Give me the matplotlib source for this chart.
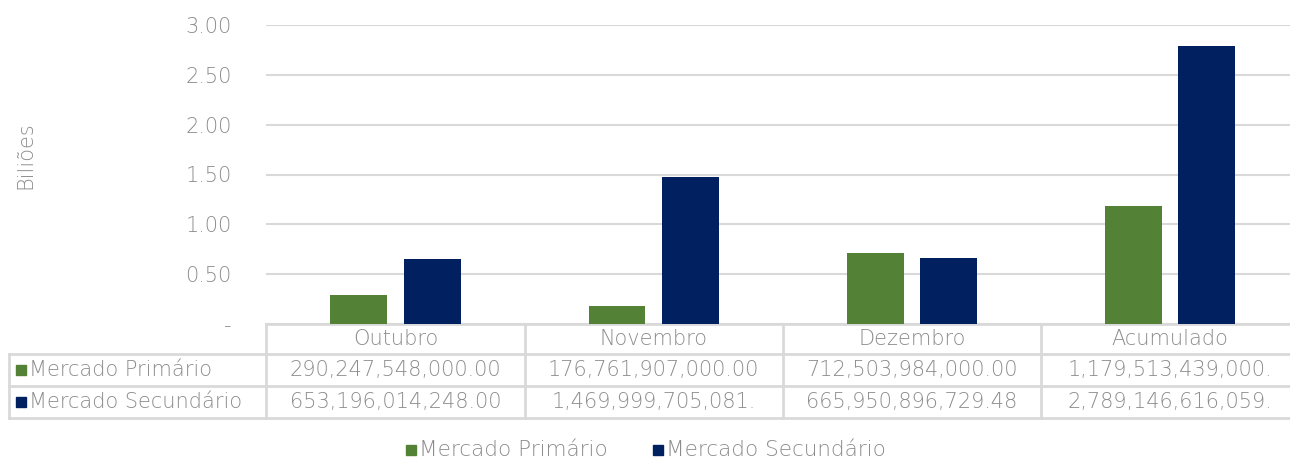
import matplotlib.pyplot as plt
import numpy as np
from matplotlib.transforms import blended_transform_factory

plt.rcParams['font.family'] = ['DejaVu Sans']
plt.rcParams['font.weight'] = 200

categories = ['Outubro', 'Novembro', 'Dezembro', 'Acumulado']
series = ['Mercado Primário', 'Mercado Secundário']
primario = [290247548000.00, 176761907000.00, 712503984000.00, 1179513439000.00]
secundario = [653196014248.00, 1469999705081.52, 665950896729.48, 2789146616059.00]
colors = ['#538135', '#002060']
yticks = [0, 0.5, 1.0, 1.5, 2.0, 2.5, 3.0]

grey = '#8c8c8c'
line_c = '#d9d9d9'
fs = 15

fig = plt.figure(figsize=(12.9, 4.59), dpi=100)
ax = fig.add_axes([266.4 / 1290, 1 - 324 / 459, 1032.8 / 1290, 299 / 459])

x = np.arange(len(categories))
w = 0.22
off = 0.142
ax.bar(x - off, np.array(primario) / 1e12, w, color=colors[0], zorder=3)
ax.bar(x + off, np.array(secundario) / 1e12, w, color=colors[1], zorder=3)

ax.set_xlim(-0.5, len(categories) - 0.5)
ax.set_ylim(0, 3)
ax.set_yticks(yticks)
ax.set_yticklabels(['-'] + ['%.2f' % v for v in yticks[1:]])
ax.tick_params(axis='y', length=0, pad=25, labelsize=fs, labelcolor=grey)
ax.set_xticks([])
ax.grid(axis='y', color=line_c, lw=1.5, zorder=0)
for s in ax.spines.values():
    s.set_visible(False)
fig.text(25 / 1290, 1 - 155 / 459, 'Biliões', rotation=90, ha='center', va='center',
         fontsize=fs, color=grey)

# data table under the plot
row_y = [0, -30 / 299, -62 / 299, -94 / 299]
tr_data = ax.get_xaxis_transform()
tr_fig = blended_transform_factory(fig.transFigure, ax.transAxes)
lkw = dict(color=line_c, lw=2, clip_on=False, zorder=1)

# horizontal rules
ax.plot([-0.5, len(categories) - 0.5], [row_y[0]] * 2, transform=tr_data, **lkw)
for yy in row_y[1:]:
    ax.plot([9 / 1290, 1], [yy, yy], transform=tr_fig, **lkw)
# vertical rules
for i in range(len(categories)):
    ax.plot([i - 0.5, i - 0.5], [row_y[0], row_y[-1]], transform=tr_data, **lkw)
ax.plot([9 / 1290, 9 / 1290], [row_y[1], row_y[-1]], transform=tr_fig, **lkw)

tkw = dict(ha='center', va='center', fontsize=fs, color=grey, clip_on=False)
for i, c in enumerate(categories):
    ax.text(i, (row_y[0] + row_y[1]) / 2, c, transform=tr_data, **tkw)
for r, (name, vals) in enumerate(zip(series, [primario, secundario])):
    yc = (row_y[r + 1] + row_y[r + 2]) / 2
    for i, v in enumerate(vals):
        ax.text(i, yc, ('{:,.2f}'.format(v))[:18], transform=tr_data, **tkw)
    ax.plot([21 / 1290], [yc], 's', ms=7.5, color=colors[r], transform=tr_fig, clip_on=False)
    ax.text(29 / 1290, yc, name, transform=tr_fig, ha='left', va='center',
            fontsize=fs, color=grey)

# legend
leg_y = 1 - 450 / 459
for name, col, xm in zip(series, colors, [411, 658]):
    fig.lines.append(plt.Line2D([xm / 1290], [leg_y], marker='s', ms=7.5, color=col,
                                transform=fig.transFigure))
    fig.text((xm + 8) / 1290, leg_y, name, ha='left', va='center', fontsize=fs + 0.5,
             color=grey)

fig.savefig('out.png', dpi=100)
